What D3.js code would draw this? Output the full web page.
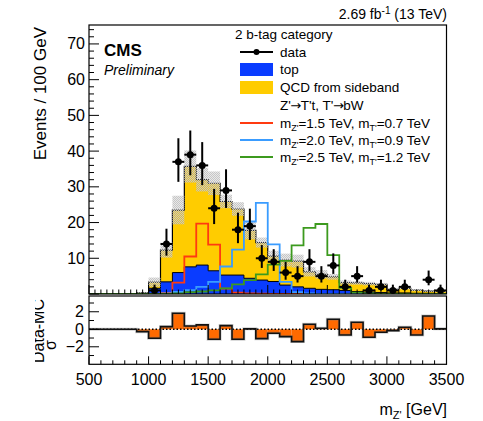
<!DOCTYPE html>
<html>
<head>
<meta charset="utf-8">
<script src="https://cdn.jsdelivr.net/npm/d3@7"></script>
<style>
  html, body { margin: 0; padding: 0; background: #fff; }
  svg { display: block; font-family: "Liberation Sans", Arial, Helvetica, sans-serif; }
</style>
</head>
<body>
<svg id="chart" width="483" height="421"></svg>
<script>
// 100 GeV bins of the reconstructed Z' mass
const binStarts = [500,600,700,800,900,1000,1100,1200,1300,1400,1500,1600,1700,1800,1900,
                   2000,2100,2200,2300,2400,2500,2600,2700,2800,2900,3000,3100,3200,3300,3400];
const binWidth = 100;

// observed events per bin
const dataCounts = [0,0,0,0,0,1,14,37,39,36,24,29,18,19,10,9,6,5,9,5,8,2,5,1,2,1,2,0,4,1];

// background stack: top (bottom layer) and QCD from sideband
const topBkg = [0,0,0,0,0.1,1.6,3.4,6.0,7.6,8.1,6.5,5.3,5.3,4.4,3.9,3.5,2.5,2.0,1.6,1.3,1.2,1.0,0.7,0.5,0.4,0.3,0.3,0.2,0.2,0.1];
const qcdBkg = [0,0,0,0,0.2,1.7,8.9,17.5,28.1,23.9,24.5,20.6,18.5,13.4,10.5,7.1,7.0,7.2,4.6,4.2,3.6,2.2,2.4,2.4,2.3,1.0,1.3,0.9,0.6,0.6];
// total background uncertainty per bin
const bkgUnc = [0,0,0,0,0.2,1.3,2.1,4.0,4.5,3.3,3.3,1.9,1.9,2.5,1.4,1.5,1.8,1.8,1.3,1.2,0.8,0.6,0.5,0.5,0.4,0.3,0.3,0.3,0.2,0.2];

// signal templates Z' -> T't, T' -> bW
const sigZ1500 = [0,0,0,0,0,0,0.3,3.2,10.5,19.7,13.8,1.5,0.4,0.2,0.1,0,0,0,0,0,0,0,0,0,0,0,0,0,0,0];
const sigZ2000 = [0,0,0,0,0,0,0.2,0.6,1.1,2.0,3.4,7.7,12.4,20.3,25.5,13.9,3.4,0.5,0.2,0,0,0,0,0,0,0,0,0,0,0];
const sigZ2500 = [0,0,0,0,0,0,0,0.2,0.5,0.7,1.0,1.6,2.7,3.9,5.5,8.2,9.3,13.6,18.5,19.6,10.9,1.7,0.4,0.2,0,0,0,0,0,0];

// pull (Data-MC)/sigma per bin
const pulls = [0,0,0,0,-0.27,-1.03,0.3,1.83,0.38,0.5,-1.14,0.42,-1.14,0.05,-1.07,-0.46,-0.84,-1.41,0.57,0.11,1.14,-0.65,0.8,-0.91,-0.34,-0.15,0.23,-0.65,1.52,0.05];

// axis ticks
const yMajorTicks = [10,20,30,40,50,60,70];
const xMajorTicks = [500,1000,1500,2000,2500,3000,3500];
const pullTicks = [-2,0,2];

const colTop = "#0a3cff", colQcd = "#ffcc00", colPull = "#ff6a00";
const colS1 = "#ff3a10", colS2 = "#3a9cff", colS3 = "#3c9a1e";

const svg = d3.select("#chart");

const x = d3.scaleLinear().domain([500, 3500]).range([89, 446.5]);
const y = d3.scaleLinear().domain([0, 75.3]).range([294, 25]);
const yr = d3.scaleLinear().domain([-4, 3.8]).range([364.3, 296]);

const defs = svg.append("defs");
const pat = defs.append("pattern").attr("id", "unc").attr("patternUnits", "userSpaceOnUse")
  .attr("width", 2).attr("height", 2);
pat.append("rect").attr("x", 0).attr("y", 0).attr("width", 2).attr("height", 2).attr("fill", "#b4b4b4").attr("fill-opacity", 0.3);
pat.append("rect").attr("x", 0).attr("y", 0).attr("width", 1).attr("height", 1).attr("fill", "#c6c6c6");
pat.append("rect").attr("x", 1).attr("y", 1).attr("width", 1).attr("height", 1).attr("fill", "#c6c6c6");
defs.append("clipPath").attr("id", "mainClip").append("rect")
  .attr("x", 89).attr("y", 25).attr("width", 357.5).attr("height", 269);
defs.append("clipPath").attr("id", "titleClip").append("rect")
  .attr("x", 35).attr("y", 296).attr("width", 40).attr("height", 80);

// step helpers
function stepPoints(vals) {
  const pts = binStarts.map((b, i) => [b, vals[i]]);
  pts.push([binStarts[binStarts.length - 1] + binWidth, vals[vals.length - 1]]);
  return pts;
}
const stepLine = ys => d3.line().x(d => x(d[0])).y(d => ys(d[1])).curve(d3.curveStepAfter);

const total = topBkg.map((t, i) => t + qcdBkg[i]);
const plot = svg.append("g").attr("clip-path", "url(#mainClip)");

// stacked backgrounds
const areaTop = d3.area().x(d => x(d[0])).y0(y(0)).y1(d => y(d[1])).curve(d3.curveStepAfter);
const areaQcd = d3.area().x(d => x(d[0])).y0(d => y(d[2])).y1(d => y(d[1])).curve(d3.curveStepAfter);
const topPts = stepPoints(topBkg);
const qcdPts = stepPoints(total).map((p, i) => [p[0], p[1], topPts[i][1]]);
plot.append("path").attr("d", areaQcd(qcdPts)).attr("fill", colQcd);
plot.append("path").attr("d", areaTop(topPts)).attr("fill", colTop);
plot.append("path").attr("d", stepLine(y)(topPts)).attr("fill", "none").attr("stroke", "#000").attr("stroke-width", 1);
plot.append("path").attr("d", stepLine(y)(stepPoints(total))).attr("fill", "none").attr("stroke", "#000").attr("stroke-width", 1.2);

// background uncertainty band
plot.selectAll("rect.unc").data(binStarts.filter((b, i) => total[i] > 0)).join("rect")
  .attr("class", "unc")
  .attr("x", b => x(b))
  .attr("width", b => x(b + binWidth) - x(b))
  .attr("y", b => { const i = binStarts.indexOf(b); return y(total[i] + bkgUnc[i]); })
  .attr("height", b => { const i = binStarts.indexOf(b); return y(total[i] - bkgUnc[i]) - y(total[i] + bkgUnc[i]); })
  .attr("fill", "url(#unc)");

// signal templates
[[sigZ1500, colS1], [sigZ2000, colS2], [sigZ2500, colS3]].forEach(([vals, c]) => {
  plot.append("path").attr("d", stepLine(y)(stepPoints(vals)))
    .attr("fill", "none").attr("stroke", c).attr("stroke-width", 1.8);
});

// data with Poisson error bars
const dataPts = binStarts.map((b, i) => ({ b, n: dataCounts[i] })).filter(d => d.n > 0);
const errLo = n => Math.sqrt(n + 0.25) - 0.5;
const errHi = n => Math.sqrt(n + 0.25) + 0.5;
const gData = svg.append("g");
dataPts.forEach(d => {
  const cx = x(d.b + binWidth / 2);
  gData.append("line").attr("x1", cx).attr("x2", cx)
    .attr("y1", y(d.n - errLo(d.n))).attr("y2", y(d.n + errHi(d.n)))
    .attr("stroke", "#000").attr("stroke-width", 2);
  gData.append("line").attr("x1", x(d.b)).attr("x2", x(d.b + binWidth))
    .attr("y1", y(d.n)).attr("y2", y(d.n)).attr("stroke", "#000").attr("stroke-width", 2);
  gData.append("circle").attr("cx", cx).attr("cy", y(d.n)).attr("r", 3.5).attr("fill", "#000");
});

// main frame and axes
svg.append("rect").attr("x", 89).attr("y", 25).attr("width", 357.5).attr("height", 269)
  .attr("fill", "none").attr("stroke", "#000").attr("stroke-width", 1.2);
const axG = svg.append("g").attr("stroke", "#000").attr("stroke-width", 1);
d3.range(0, 75.3, 2).forEach(v => {
  const major = v % 10 === 0;
  axG.append("line").attr("x1", 89).attr("x2", 89 + (major ? 10 : 5)).attr("y1", y(v)).attr("y2", y(v));
});
d3.range(500, 3501, 50).forEach(v => {
  const major = v % 500 === 0;
  axG.append("line").attr("x1", x(v)).attr("x2", x(v)).attr("y1", 294).attr("y2", 294 - (major ? 9 : 4.5));
});
svg.append("g").selectAll("text").data(yMajorTicks).join("text")
  .attr("x", 85).attr("y", v => y(v) + 5.5).attr("text-anchor", "end")
  .attr("font-size", 16).text(v => v);

svg.append("text").attr("transform", "translate(46,27) rotate(-90)")
  .attr("text-anchor", "end").attr("font-size", 17).text("Events / 100 GeV");

// header and labels
const lumi = svg.append("text").attr("x", 447).attr("y", 19).attr("text-anchor", "end").attr("font-size", 14);
lumi.append("tspan").text("2.69 fb");
lumi.append("tspan").attr("dy", -5).attr("font-size", 10).text("-1");
lumi.append("tspan").attr("dy", 5).text(" (13 TeV)");
svg.append("text").attr("x", 104).attr("y", 56).attr("font-size", 17).attr("font-weight", "bold").text("CMS");
svg.append("text").attr("x", 104).attr("y", 75).attr("font-size", 14).attr("font-style", "italic").text("Preliminary");

// legend
const lg = svg.append("g").attr("font-size", 13.5);
lg.append("text").attr("x", 235).attr("y", 39).text("2 b-tag category");
lg.append("line").attr("x1", 240).attr("x2", 273).attr("y1", 52).attr("y2", 52).attr("stroke", "#000").attr("stroke-width", 2);
lg.append("circle").attr("cx", 256.5).attr("cy", 52).attr("r", 3).attr("fill", "#000");
lg.append("text").attr("x", 280).attr("y", 57).text("data");
lg.append("rect").attr("x", 240).attr("y", 63).attr("width", 33).attr("height", 13).attr("fill", colTop);
lg.append("text").attr("x", 280).attr("y", 74).text("top");
lg.append("rect").attr("x", 240).attr("y", 81).attr("width", 33).attr("height", 13).attr("fill", colQcd);
lg.append("text").attr("x", 280).attr("y", 92).text("QCD from sideband");
const decay = lg.append("text").attr("x", 280).attr("y", 110);
decay.append("tspan").text("Z'");
decay.append("tspan").attr("font-size", 13).attr("font-family", "DejaVu Sans").attr("dx", -0.5).text("\u2192");
decay.append("tspan").attr("dx", -0.5).text("T't, T'");
decay.append("tspan").attr("font-size", 13).attr("font-family", "DejaVu Sans").attr("dx", -0.5).text("\u2192");
decay.append("tspan").attr("dx", -0.5).text("bW");
const sigLegend = [
  { c: colS1, yy: 123, mz: "1.5", mt: "0.7" },
  { c: colS2, yy: 140, mz: "2.0", mt: "0.9" },
  { c: colS3, yy: 157, mz: "2.5", mt: "1.2" }
];
sigLegend.forEach(s => {
  lg.append("line").attr("x1", 240).attr("x2", 273).attr("y1", s.yy).attr("y2", s.yy)
    .attr("stroke", s.c).attr("stroke-width", 1.8);
  const t = lg.append("text").attr("x", 280).attr("y", s.yy + 4.5);
  t.append("tspan").text("m");
  t.append("tspan").attr("dy", 3.5).attr("font-size", 9).text("Z'");
  t.append("tspan").attr("dy", -3.5).text("=" + s.mz + " TeV, m");
  t.append("tspan").attr("dy", 3.5).attr("font-size", 9).text("T'");
  t.append("tspan").attr("dy", -3.5).text("=" + s.mt + " TeV");
});

// pull panel
const rp = svg.append("g");
binStarts.forEach((b, i) => {
  if (pulls[i] === 0) return;
  rp.append("rect").attr("x", x(b)).attr("width", x(b + binWidth) - x(b))
    .attr("y", Math.min(yr(0), yr(pulls[i]))).attr("height", Math.abs(yr(pulls[i]) - yr(0)))
    .attr("fill", colPull);
});
rp.append("line").attr("x1", x(500)).attr("x2", x(3500)).attr("y1", yr(0)).attr("y2", yr(0))
  .attr("stroke", "#000").attr("stroke-width", 1.3).attr("stroke-dasharray", "1.5,2");
rp.append("path").attr("d", stepLine(yr)(stepPoints(pulls))).attr("fill", "none")
  .attr("stroke", "#777").attr("stroke-width", 3).attr("stroke-opacity", 0.35);
rp.append("path").attr("d", stepLine(yr)(stepPoints(pulls))).attr("fill", "none")
  .attr("stroke", "#111").attr("stroke-width", 1.6);
svg.append("rect").attr("x", 89).attr("y", 296).attr("width", 357.5).attr("height", 68.3)
  .attr("fill", "none").attr("stroke", "#000").attr("stroke-width", 1.2);
const rax = svg.append("g").attr("stroke", "#000").attr("stroke-width", 1);
d3.range(-3, 4, 1).forEach(v => {
  rax.append("line").attr("x1", 89).attr("x2", 89 + (v % 2 === 0 ? 10 : 5)).attr("y1", yr(v)).attr("y2", yr(v));
});
d3.range(500, 3501, 100).forEach(v => {
  rax.append("line").attr("x1", x(v)).attr("x2", x(v)).attr("y1", 364.3).attr("y2", 364.3 - (v % 500 === 0 ? 8 : 4));
});
svg.append("g").selectAll("text").data(pullTicks).join("text")
  .attr("x", 84).attr("y", v => yr(v) + 5.5).attr("text-anchor", "end")
  .attr("font-size", 16).text(v => v < 0 ? "\u2212" + Math.abs(v) : v);
svg.append("g").selectAll("text").data(xMajorTicks).join("text")
  .attr("x", v => x(v)).attr("y", 385).attr("text-anchor", "middle")
  .attr("font-size", 16).text(v => v);

// pull axis title: Data-MC over sigma
const rt = svg.append("g").attr("clip-path", "url(#titleClip)");
rt.append("text").attr("transform", "translate(44,331) rotate(-90)")
  .attr("text-anchor", "middle").attr("font-size", 16).text("Data-MC");
svg.append("text").attr("transform", "translate(56,345) rotate(-90)")
  .attr("text-anchor", "middle").attr("font-size", 16).text("\u03c3");

// x axis title
const xt = svg.append("text").attr("x", 447).attr("y", 415).attr("text-anchor", "end").attr("font-size", 16);
xt.append("tspan").text("m");
xt.append("tspan").attr("dy", 4).attr("font-size", 11).text("Z'");
xt.append("tspan").attr("dy", -4).text(" [GeV]");
</script>
</body>
</html>
